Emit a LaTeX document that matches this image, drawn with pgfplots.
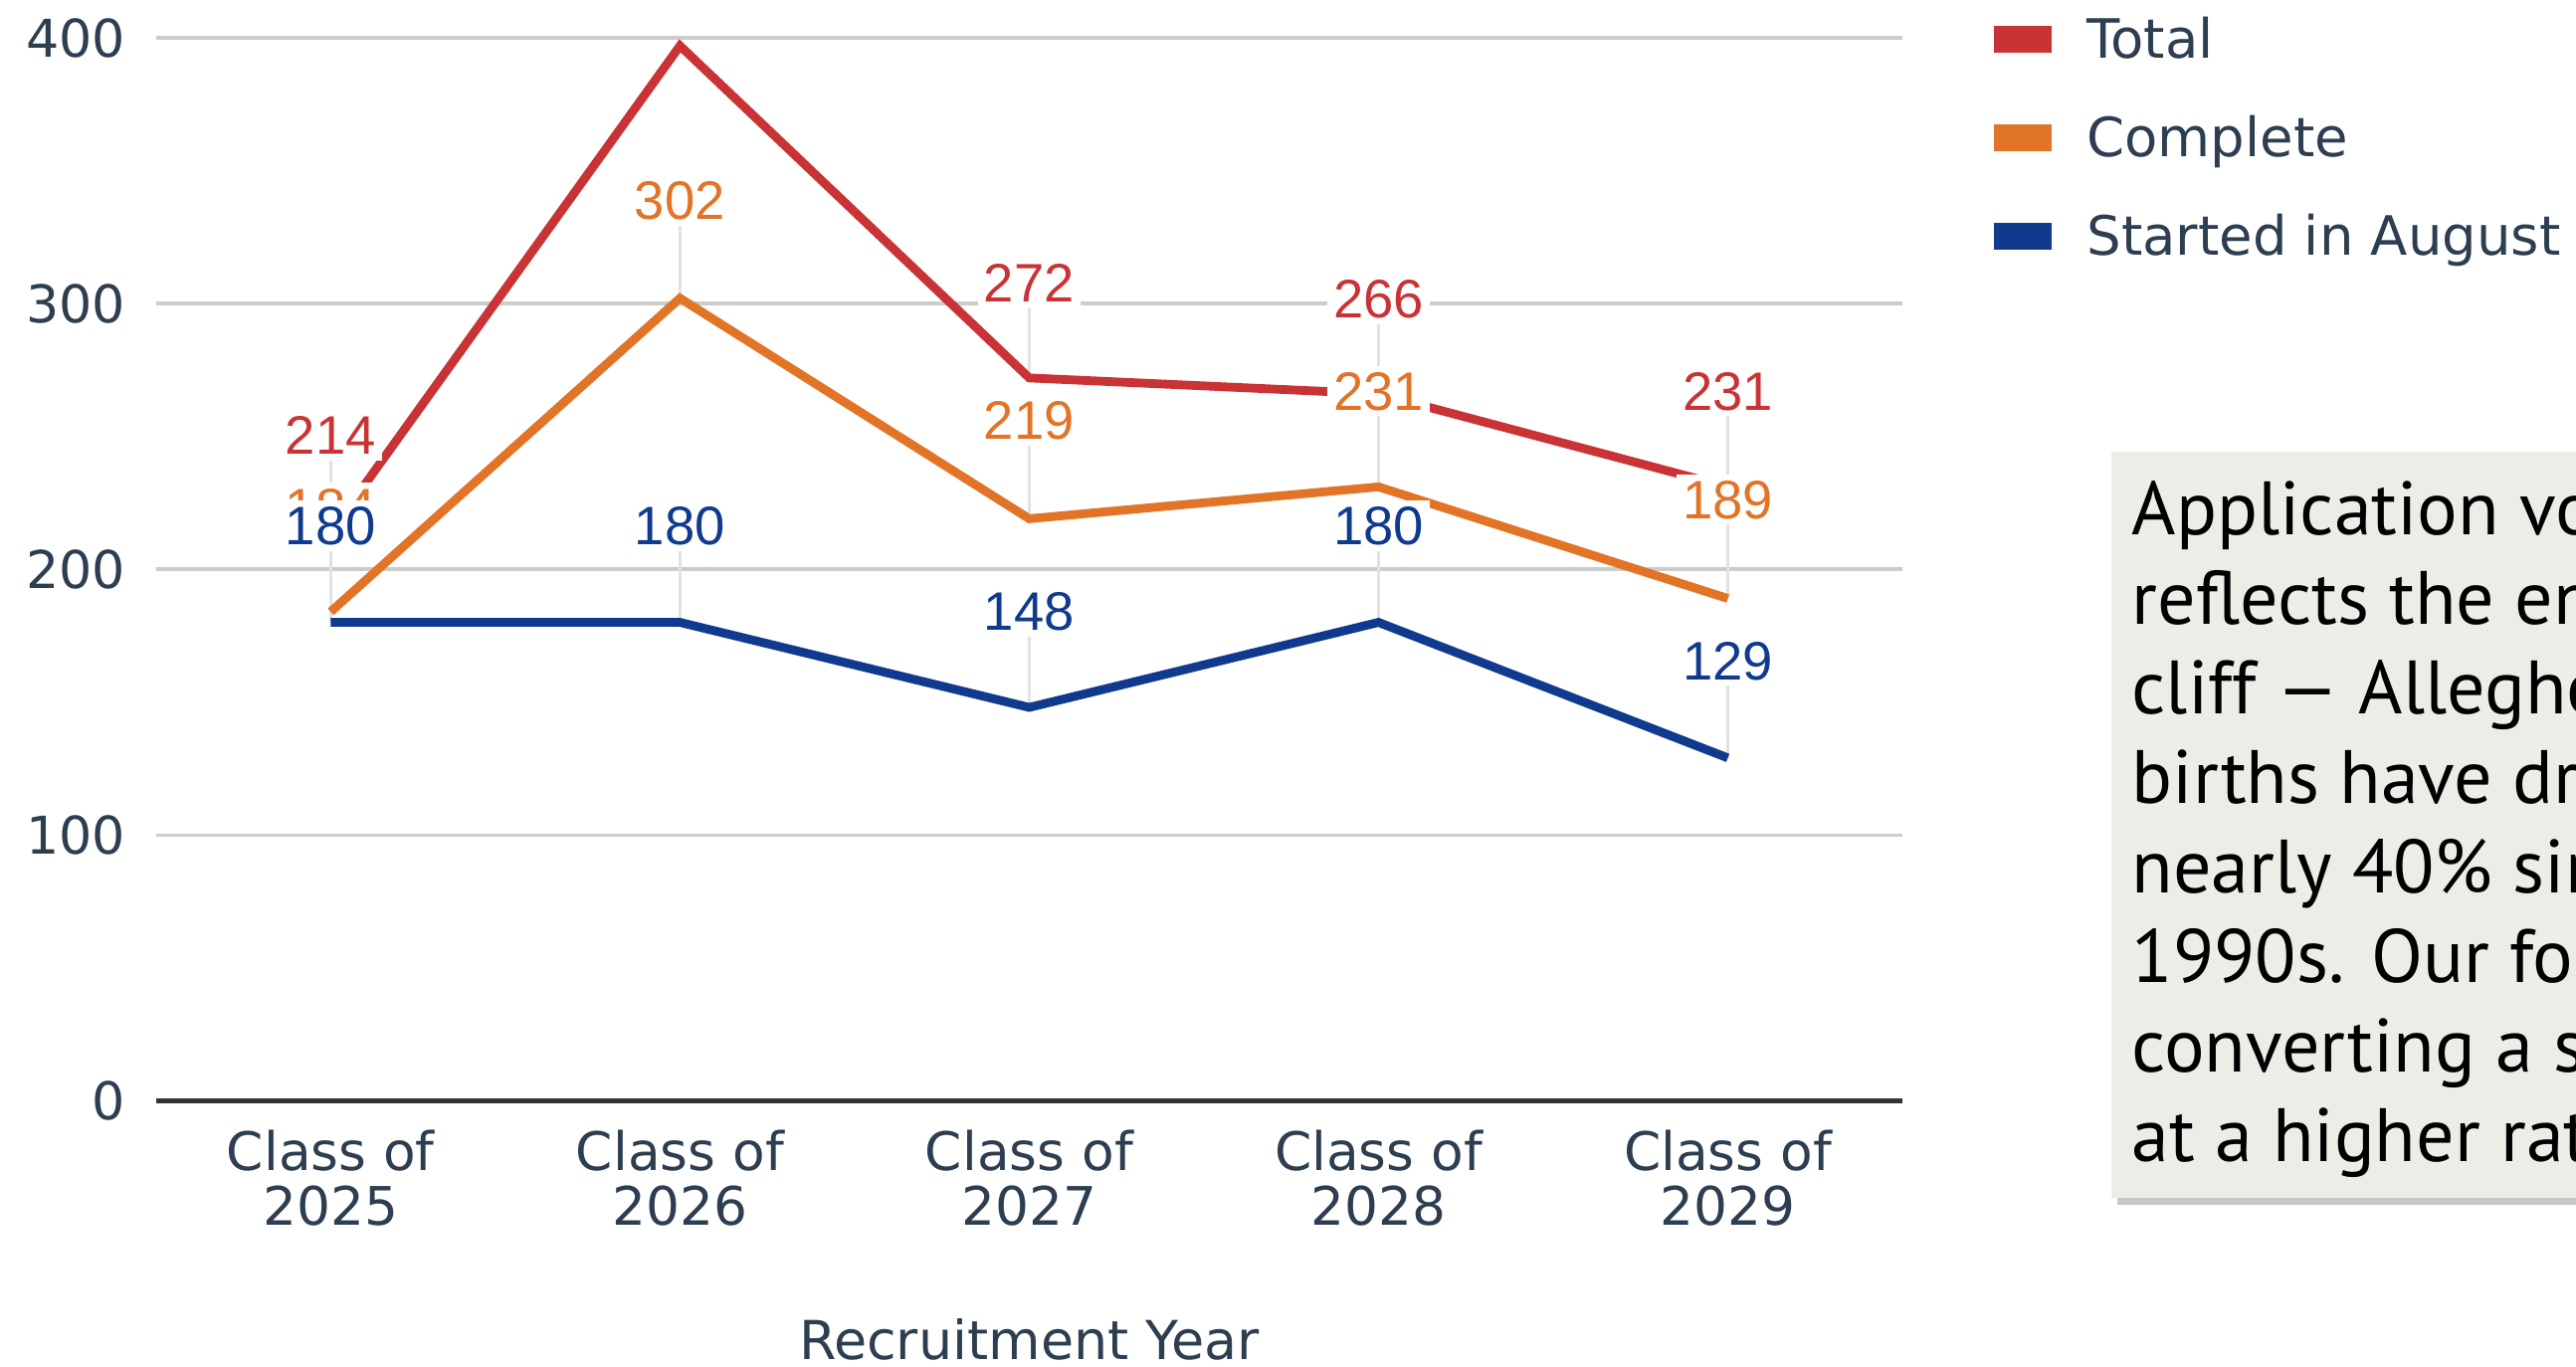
\documentclass[border=0pt]{standalone}
\usepackage{fontspec}
\setmainfont{DejaVu Sans}
\newfontfamily\lblfont{Liberation Sans}
\newfontfamily\boxfont{PT Sans}
\usepackage{pgfplots}
\pgfplotsset{compat=1.18}
\usepackage{pgfplotstable}

\definecolor{cTotal}{RGB}{202,51,54}
\definecolor{cComplete}{RGB}{226,116,39}
\definecolor{cStarted}{RGB}{15,58,142}
\definecolor{txt}{RGB}{44,62,80}
\definecolor{gridc}{RGB}{204,204,204}
\definecolor{axisc}{RGB}{51,51,51}
\definecolor{leader}{RGB}{226,226,226}
\definecolor{boxbg}{RGB}{237,236,231}

\pgfplotstableread{
x v ly lbl
0 214 250.4 214
2 272 307.9 272
3 266 301.7 266
4 231 267.1 231
}\totlbl
\pgfplotstableread{
x v ly lbl
0 184 223.2 184
1 302 338.8 302
2 219 256.0 219
3 231 267.1 231
4 189 226.3 189
}\comlbl
\pgfplotstableread{
x v ly lbl
0 180 216.4 180
1 180 216.4 180
2 148 184.2 148
3 180 216.4 180
4 129 165.7 129
}\stalbl

\pgfplotsset{
  leaderplot/.style={forget plot, draw=none, mark=none,
    error bars/.cd, y dir=plus, y explicit, error mark=none,
    error bar style={draw=leader, line width=0.5pt}},
  lblplot/.style={forget plot, draw=none, mark=none, nodes near coords,
    point meta=explicit symbolic,
    nodes near coords style={anchor=center, fill=white, inner xsep=1.1pt, inner ysep=1.1pt,
      text height=7pt, text depth=0pt, font=\lblfont\fontsize{9.9}{9.9}\selectfont, text=#1}},
}

\begin{document}
\begin{tikzpicture}
\useasboundingbox (-28.5pt,-48.6pt) rectangle (441.9pt,201pt);
\clip (-28.5pt,-48.6pt) rectangle (441.9pt,201pt);
\begin{axis}[
  at={(0,0)}, anchor=south west,
  scale only axis, width=318.9pt, height=194.1pt,
  xmin=-0.5, xmax=4.5, ymin=0, ymax=400,
  axis line style={draw=none},
  xtick={0,1,2,3,4},
  xticklabels={{Class of\\2025},{Class of\\2026},{Class of\\2027},{Class of\\2028},{Class of\\2029}},
  ytick={100,200,300,400},
  extra y ticks={0},
  extra y tick style={grid=major, major grid style={draw=axisc, line width=1pt}},
  ymajorgrids, major grid style={draw=gridc, line width=0.6pt},
  major tick length=0pt,
  xticklabel style={align=center, font=\fontsize{9.7}{10}\selectfont, text=txt, inner sep=0pt, anchor=north, yshift=-5.2pt},
  yticklabel style={font=\fontsize{9.5}{11}\selectfont, text=txt, inner sep=0pt, anchor=east, xshift=-5.4pt},
  /pgf/number format/assume math mode=true,
  xlabel={Recruitment Year},
  xlabel style={font=\fontsize{9.8}{11}\selectfont, text=txt, at={(axis description cs:0.5,0)}, anchor=base, yshift=-47.2pt},
  legend cell align=left,
  legend image code/.code={\fill (0pt,-1.65pt) rectangle (9pt,1.65pt);},
  legend style={draw=none, fill=none, at={(axis description cs:1.0517,1.0)}, anchor=north west,
    yshift=3.7pt, inner sep=0pt, row sep=10.6pt, column sep=6.4pt,
    font=\fontsize{9.9}{11}\selectfont, text=txt,
    nodes={inner sep=0pt, text height=7.2pt, text depth=0.2pt}},
]
\addplot[leaderplot] table[x=x, y=v, y error plus expr=\thisrow{ly}-\thisrow{v}] {\totlbl};
\addplot[leaderplot] table[x=x, y=v, y error plus expr=\thisrow{ly}-\thisrow{v}] {\comlbl};
\addplot[leaderplot] table[x=x, y=v, y error plus expr=\thisrow{ly}-\thisrow{v}] {\stalbl};

\addplot[color=cTotal, line width=1.6pt] coordinates {(0,214) (1,397) (2,272) (3,266) (4,231)};
\addlegendentry{Total}
\addplot[color=cComplete, line width=1.6pt] coordinates {(0,184) (1,302) (2,219) (3,231) (4,189)};
\addlegendentry{Complete}
\addplot[color=cStarted, line width=1.6pt] coordinates {(0,180) (1,180) (2,148) (3,180) (4,129)};
\addlegendentry{Started in August}

\addplot[lblplot=cTotal] table[x=x, y=ly, meta=lbl] {\totlbl};
\addplot[lblplot=cComplete] table[x=x, y=ly, meta=lbl] {\comlbl};
\addplot[lblplot=cStarted] table[x=x, y=ly, meta=lbl] {\stalbl};
\end{axis}
\fill[black!22] (358.2pt,-19.1pt) rectangle (520pt,117pt);
\fill[boxbg] (357pt,-17.7pt) rectangle (520pt,118.5pt);
\node[anchor=base west, align=left, inner sep=0pt, text=black,
  font=\boxfont\fontsize{13.8}{16.35}\selectfont] at (360.6pt,-11.1pt)
  {Application volume\\reflects the enrollment\\cliff — Allegheny County\\births have dropped\\nearly 40\% since the\\1990s. Our focus is on\\converting a smaller pool\\at a higher rate.};
\end{tikzpicture}
\end{document}
